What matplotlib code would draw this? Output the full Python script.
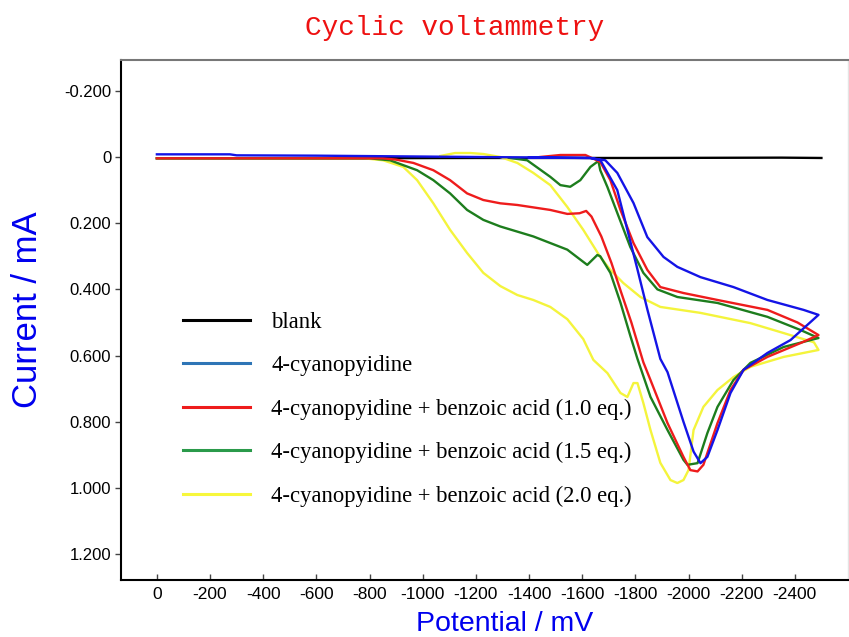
import matplotlib
matplotlib.use('Agg')
import matplotlib.pyplot as plt
from matplotlib.ticker import FixedLocator

# potential (mV) / current (mA), full scan path 0 -> -2500 -> back
blank_v = [0, -600, -1200, -1800, -2350, -2500]
blank_i = [0.004, 0.004, 0.003, 0.003, 0.002, 0.003]

cyano_v = [0, -100, -275, -300, -600, -900, -1200, -1500, -1630, -1668, -1732, -1770, -1808,
           -1845, -1894, -1921, -1981, -2019, -2045, -2071, -2109, -2158, -2207, -2297, -2384,
           -2489, -2433, -2297, -2169, -2045, -1958, -1906, -1845, -1793, -1732, -1687, -1630, -1400]
cyano_i = [-0.008, -0.008, -0.008, -0.005, -0.004, -0.002, 0.0, 0.002, 0.003, 0.009, 0.10, 0.22, 0.34,
           0.46, 0.61, 0.65, 0.80, 0.89, 0.925, 0.906, 0.825, 0.713, 0.643, 0.592, 0.553,
           0.477, 0.462, 0.432, 0.393, 0.363, 0.332, 0.302, 0.242, 0.139, 0.048, 0.01, 0.003, 0.002]

acid10_v = [0, -850, -900, -965, -1040, -1103, -1167, -1228, -1292, -1356, -1480, -1544, -1590,
            -1615, -1635, -1672, -1710, -1747, -1785, -1830, -1857, -1921, -1981, -2007, -2034,
            -2056, -2109, -2158, -2207, -2297, -2422, -2489,
            -2410, -2297, -2109, -1981, -1894, -1845, -1793, -1744, -1706, -1668, -1612, -1518, -1442]
acid10_i = [0.004, 0.004, 0.008, 0.018, 0.04, 0.07, 0.11, 0.13, 0.14, 0.145, 0.16, 0.172, 0.17,
            0.163, 0.18, 0.24, 0.32, 0.41, 0.50, 0.62, 0.674, 0.804, 0.906, 0.946, 0.95,
            0.93, 0.804, 0.704, 0.643, 0.604, 0.562, 0.538,
            0.50, 0.462, 0.432, 0.411, 0.393, 0.341, 0.26, 0.16, 0.07, 0.015, -0.006, -0.006, 0.0]

acid15_v = [0, -800, -877, -979, -1040, -1103, -1167, -1228, -1292, -1416, -1544, -1619, -1657,
            -1668, -1706, -1744, -1781, -1808, -1857, -1921, -1981, -1996, -2034, -2071, -2109,
            -2169, -2233, -2358, -2489,
            -2422, -2297, -2109, -1958, -1883, -1830, -1781, -1732, -1695, -1668, -1661, -1631,
            -1593, -1555, -1518, -1480, -1393, -1329]
acid15_i = [0.004, 0.004, 0.01, 0.04, 0.07, 0.11, 0.16, 0.19, 0.21, 0.24, 0.28, 0.326, 0.296,
            0.30, 0.35, 0.44, 0.54, 0.61, 0.725, 0.825, 0.915, 0.93, 0.925, 0.834, 0.755,
            0.674, 0.622, 0.574, 0.547,
            0.523, 0.483, 0.441, 0.423, 0.40, 0.35, 0.272, 0.169, 0.091, 0.04, 0.012, 0.03,
            0.07, 0.09, 0.085, 0.06, 0.01, 0.003]

acid20_v = [0, -780, -851, -927, -979, -1040, -1103, -1167, -1228, -1292, -1356, -1416, -1480,
            -1544, -1604, -1642, -1695, -1744, -1770, -1793, -1808, -1830, -1857, -1894, -1932,
            -1958, -1981, -2000, -2019, -2056, -2109, -2169, -2233, -2358, -2489,
            -2472, -2358, -2233, -2045, -1894, -1819, -1755, -1706, -1668, -1604, -1544, -1480,
            -1416, -1356, -1292, -1228, -1179, -1122, -1066]
acid20_i = [0.004, 0.004, 0.01, 0.03, 0.07, 0.14, 0.22, 0.29, 0.35, 0.39, 0.417, 0.432, 0.453,
            0.49, 0.55, 0.613, 0.653, 0.713, 0.725, 0.683, 0.683, 0.743, 0.825, 0.924, 0.976,
            0.985, 0.976, 0.946, 0.825, 0.755, 0.704, 0.665, 0.634, 0.604, 0.583,
            0.56, 0.532, 0.502, 0.471, 0.453, 0.423, 0.381, 0.341, 0.302, 0.22, 0.151, 0.085,
            0.048, 0.018, 0.0, -0.009, -0.012, -0.012, -0.003]

labels = ['blank', '4-cyanopyidine', '4-cyanopyidine + benzoic acid (1.0 eq.)',
          '4-cyanopyidine + benzoic acid (1.5 eq.)', '4-cyanopyidine + benzoic acid (2.0 eq.)']
line_colors = ['black', '#1414e6', '#ee1c1c', '#1d7d1d', '#f4f43c']
legend_colors = ['black', '#2e75b6', '#ee1c1c', '#2a9a4a', '#f7f73c']

x_ticks = list(range(0, -2401, -200))
y_ticks = [-0.2, 0, 0.2, 0.4, 0.6, 0.8, 1.0, 1.2]
y_tick_labels = ['-0.200', '0', '0.200', '0.400', '0.600', '0.800', '1.000', '1.200']

fig = plt.figure(figsize=(8.49, 6.37), dpi=100)
ax = fig.add_axes([121 / 849, 1 - 580 / 637, 727 / 849, 520 / 637])

curves = [(blank_v, blank_i), (acid20_v, acid20_i), (acid15_v, acid15_i),
          (acid10_v, acid10_i), (cyano_v, cyano_i)]
order = [0, 4, 3, 2, 1]
for (v, i), k in zip(curves, order):
    ax.plot(v, i, color=line_colors[k], lw=1.7, solid_joinstyle='round')

# legend proxies (legend colours differ slightly from the curves)
handles = []
for lab, c in zip(labels, legend_colors):
    h, = ax.plot([], [], color=c, lw=2.2, label=lab)
    handles.append(h)
ax.legend(handles=handles, loc='upper left', bbox_to_anchor=(0.085, 0.515), frameon=False,
          prop={'family': 'Liberation Serif', 'size': 16.3}, handlelength=2.95,
          handletextpad=0.95, labelspacing=0.98, borderpad=0, borderaxespad=0)

ax.set_xlim(135, -2600)
ax.set_ylim(1.278, -0.293)

ax.xaxis.set_major_locator(FixedLocator(x_ticks))
ax.set_xticklabels([str(t) for t in x_ticks], family='Liberation Sans', fontsize=12.5)
ax.set_yticks(y_ticks)
ax.set_yticklabels(y_tick_labels, family='Liberation Sans', fontsize=12)
ax.tick_params(axis='x', direction='in', length=4, width=1, color='#444444', pad=5)
ax.tick_params(axis='y', direction='out', length=4, width=1, color='#444444', pad=3)

for side in ['left', 'bottom']:
    ax.spines[side].set_linewidth(1.5)
    ax.spines[side].set_color('black')
ax.spines['top'].set_color('#777777')
ax.spines['top'].set_linewidth(1.5)
ax.spines['right'].set_color('#e4e4e4')
ax.spines['right'].set_linewidth(1)

ax.set_xlabel('Potential / mV', family='Liberation Sans', fontsize=20.5, color='#0000ee')
ax.xaxis.label.set_va('bottom')
ax.xaxis.set_label_coords(0.528, -0.1087)
ax.set_ylabel('Current / mA', family='Liberation Sans', fontsize=25, color='#0000ee')
ax.yaxis.label.set_va('center')
ax.yaxis.set_label_coords(-0.128, 0.519)

fig.text(455 / 849, 1 - 28 / 637, 'Cyclic voltammetry', ha='center', va='center', color='#ee1111',
         family='Liberation Mono', fontsize=20)

fig.savefig('out.png', dpi=100)
